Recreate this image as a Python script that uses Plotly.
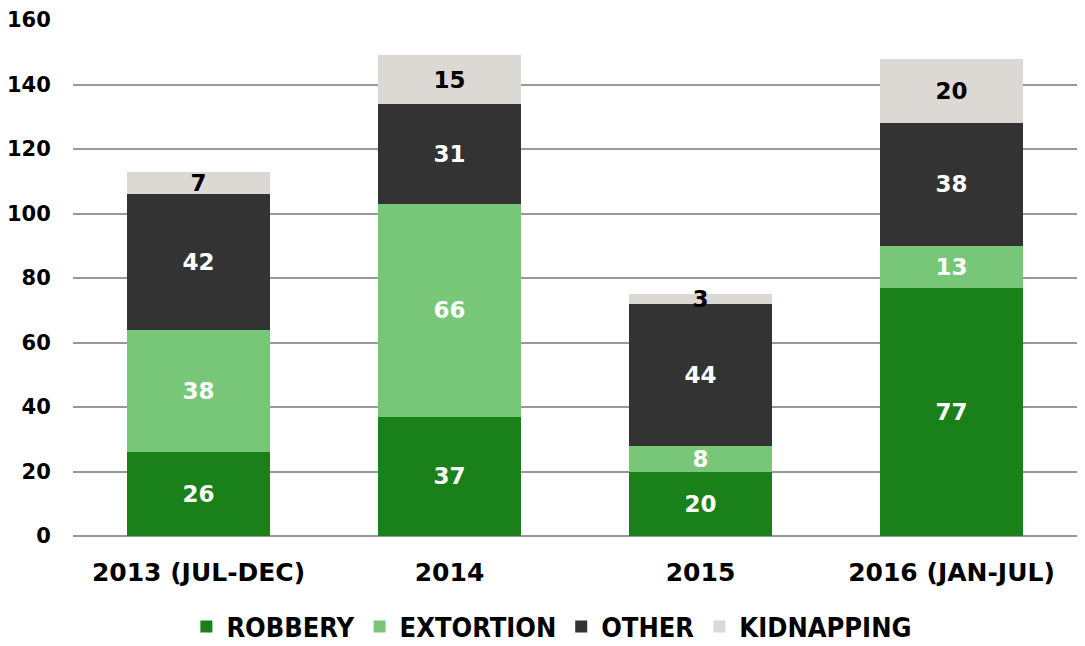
import plotly.graph_objects as go

categories = ["2013 (JUL-DEC)", "2014", "2015", "2016 (JAN-JUL)"]
robbery = [26, 37, 20, 77]
extortion = [38, 66, 8, 13]
other = [42, 31, 44, 38]
kidnapping = [7, 15, 3, 20]

series = [
    ("ROBBERY", robbery, "#1a801a", "white"),
    ("EXTORTION", extortion, "#78c677", "white"),
    ("OTHER", other, "#333333", "white"),
    ("KIDNAPPING", kidnapping, "#dcd8d4", "black"),
]

fig = go.Figure()
for name, vals, color, tcolor in series:
    fig.add_trace(go.Bar(
        x=categories, y=vals, name=name,
        marker=dict(color=color, line=dict(width=0)),
        text=[str(v) for v in vals], textposition="inside",
        insidetextanchor="middle", textangle=0,
        textfont=dict(color=tcolor, size=23, family="DejaVu Sans", weight="bold"),
        cliponaxis=False,
    ))

# page body has an 8px default margin, so the figure is sized and offset to compensate
fig.update_layout(
    barmode="stack",
    bargap=0.434,
    width=1077, height=638,
    margin=dict(l=65, r=8, t=12, b=110, autoexpand=False),
    paper_bgcolor="white", plot_bgcolor="white",
    uniformtext=dict(minsize=20, mode="show"),
    font=dict(family="DejaVu Sans", size=20, color="black"),
    xaxis=dict(
        tickfont=dict(family="DejaVu Sans", size=25, weight="bold", color="black"),
        showgrid=False, ticks="outside", ticklen=14, tickcolor="white", showline=False,
        automargin=False,
    ),
    yaxis=dict(
        range=[0, 160], dtick=20,
        tickfont=dict(family="DejaVu Sans", size=21, weight="bold", color="black"),
        showgrid=True, gridcolor="#999999", gridwidth=2,
        zeroline=True, zerolinecolor="#999999", zerolinewidth=2,
        ticks="outside", ticklen=17, tickcolor="white", automargin=False,
    ),
    legend=dict(
        orientation="h", xref="container", x=0.505, xanchor="center",
        yref="container", y=0.03, yanchor="middle",
        font=dict(family="DejaVu Sans Condensed, Liberation Sans Narrow, Roboto", size=27, weight="bold"),
        itemwidth=30, traceorder="normal",
    ),
)

fig.write_html("out.html")
